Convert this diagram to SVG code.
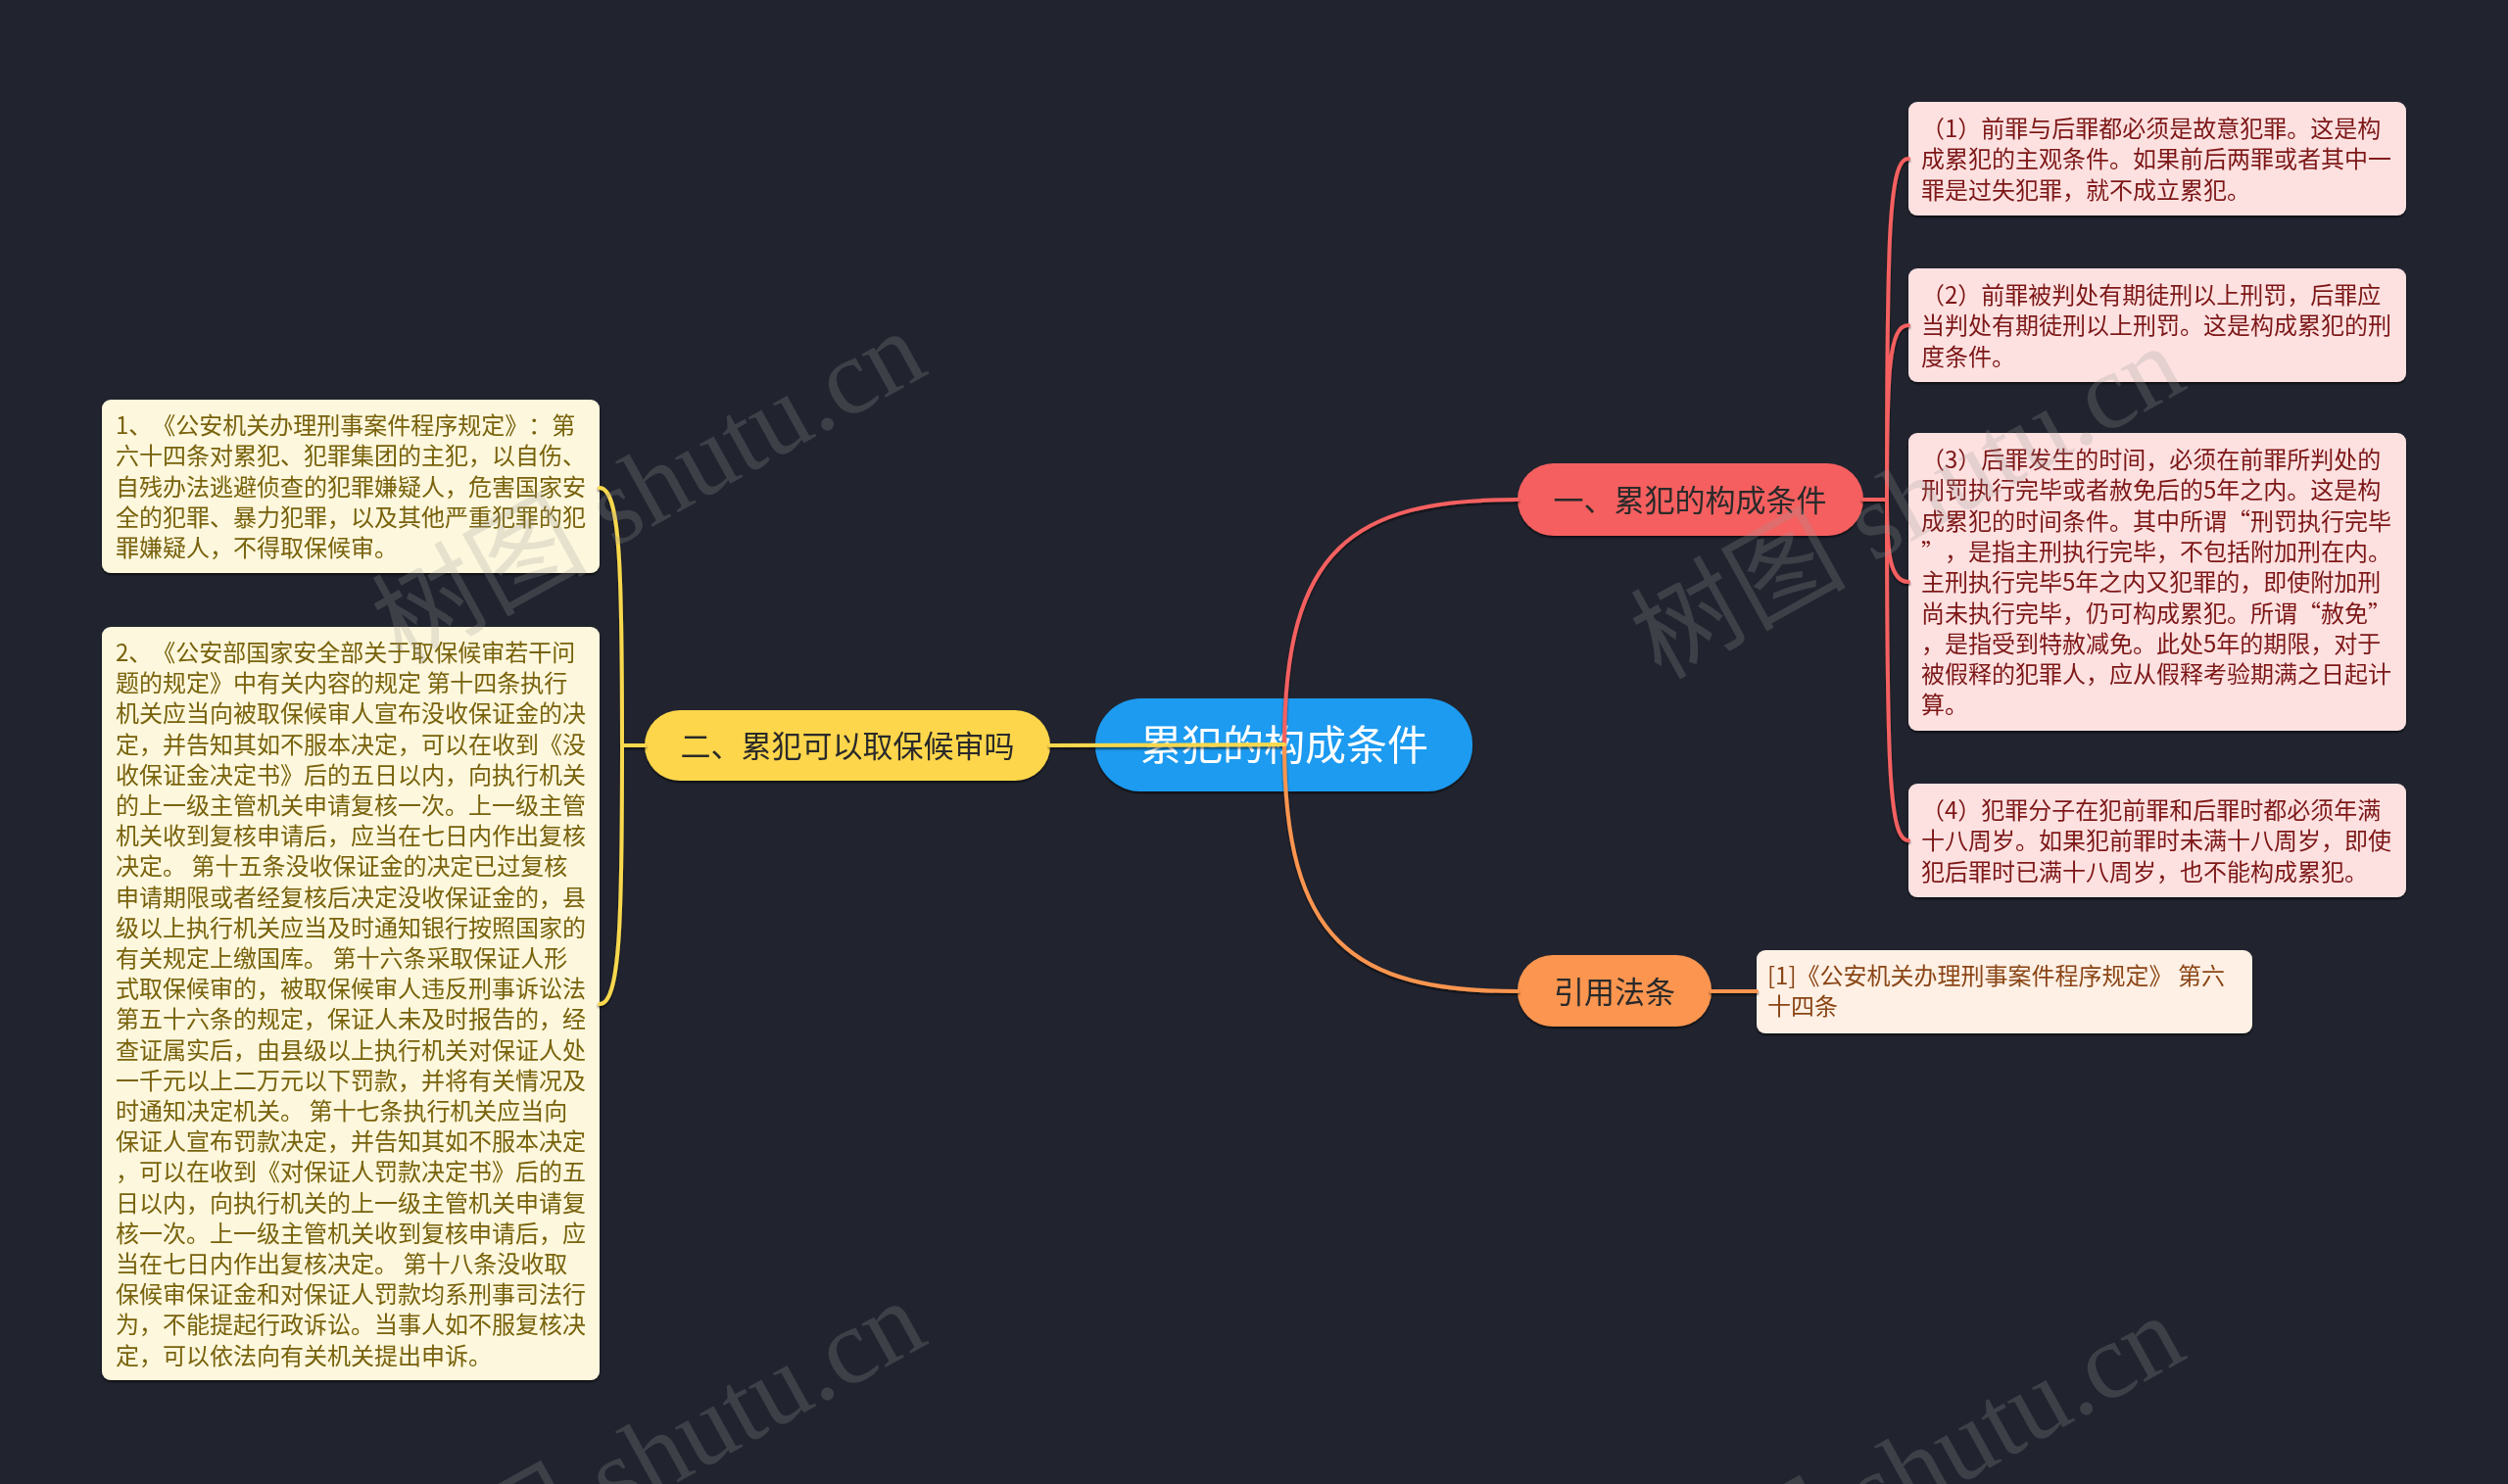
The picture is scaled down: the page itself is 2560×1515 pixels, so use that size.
<svg xmlns="http://www.w3.org/2000/svg" width="2560" height="1515" viewBox="0 0 2560 1515">
<style>
text{font-family:"Noto Sans CJK SC","Noto Sans",sans-serif;text-spacing-trim:space-all;}
.leaf{font-size:24px;}
.rt{fill:#7d1818;}
.lt{fill:#78620a;}
.ct{fill:#8a4516;}
.nt{font-size:31px;fill:#2a2a2a;text-anchor:middle;}
.rbox{fill:#fde1e1;}
.lbox{fill:#fdf7dd;}
.cbox{fill:#fef0e4;}
.wm{font-family:"Liberation Serif","Noto Sans CJK SC",serif;font-size:110px;fill:#9a9a9a;fill-opacity:0.24;}
.c{fill:none;stroke-width:4;stroke-linecap:round;}
</style>
<defs>
<filter id="sh" x="-5%" y="-5%" width="110%" height="115%">
<feDropShadow dx="0" dy="2" stdDeviation="1.2" flood-color="#000" flood-opacity="0.6"/>
</filter>
</defs>
<rect width="2560" height="1515" fill="#21242f"/>

<g id="root" filter="url(#sh)">
<rect x="1118" y="713" width="385" height="95" rx="47" fill="#1e9bf0"/>
<text x="1311" y="776" style="font-size:42px;fill:#ffffff;text-anchor:middle">累犯的构成条件</text>
</g>

<g id="n1" filter="url(#sh)">
<rect x="1549" y="473" width="353" height="74" rx="37" fill="#f55f5f"/>
<text class="nt" x="1725" y="522">一、累犯的构成条件</text>
</g>

<g id="n2" filter="url(#sh)">
<rect x="658" y="725" width="414" height="72" rx="36" fill="#fdd64c"/>
<text class="nt" x="865" y="773">二、累犯可以取保候审吗</text>
</g>

<g id="n3" filter="url(#sh)">
<rect x="1549" y="975" width="198" height="73" rx="36" fill="#fb9550"/>
<text class="nt" x="1648" y="1024">引用法条</text>
</g>

<g id="r1" filter="url(#sh)">
<rect class="rbox" x="1948" y="104" width="508" height="116" rx="9"/>
<text class="leaf rt" x="1961" y="140"><tspan x="1961">（1）前罪与后罪都必须是故意犯罪。这是构</tspan><tspan x="1961" dy="31.3">成累犯的主观条件。如果前后两罪或者其中一</tspan><tspan x="1961" dy="31.3">罪是过失犯罪，就不成立累犯。</tspan></text>
</g>

<g id="r2" filter="url(#sh)">
<rect class="rbox" x="1948" y="274" width="508" height="116" rx="9"/>
<text class="leaf rt" x="1961" y="310"><tspan x="1961">（2）前罪被判处有期徒刑以上刑罚，后罪应</tspan><tspan x="1961" dy="31.3">当判处有期徒刑以上刑罚。这是构成累犯的刑</tspan><tspan x="1961" dy="31.3">度条件。</tspan></text>
</g>

<g id="r3" filter="url(#sh)">
<rect class="rbox" x="1948" y="442" width="508" height="304" rx="9"/>
<text class="leaf rt" x="1961" y="478"><tspan x="1961">（3）后罪发生的时间，必须在前罪所判处的</tspan><tspan x="1961" dy="31.3">刑罚执行完毕或者赦免后的5年之内。这是构</tspan><tspan x="1961" dy="31.3">成累犯的时间条件。其中所谓“刑罚执行完毕</tspan><tspan x="1961" dy="31.3">”，是指主刑执行完毕，不包括附加刑在内。</tspan><tspan x="1961" dy="31.3">主刑执行完毕5年之内又犯罪的，即使附加刑</tspan><tspan x="1961" dy="31.3">尚未执行完毕，仍可构成累犯。所谓“赦免”</tspan><tspan x="1961" dy="31.3">，是指受到特赦减免。此处5年的期限，对于</tspan><tspan x="1961" dy="31.3">被假释的犯罪人，应从假释考验期满之日起计</tspan><tspan x="1961" dy="31.3">算。</tspan></text>
</g>

<g id="r4" filter="url(#sh)">
<rect class="rbox" x="1948" y="800" width="508" height="116" rx="9"/>
<text class="leaf rt" x="1961" y="836"><tspan x="1961">（4）犯罪分子在犯前罪和后罪时都必须年满</tspan><tspan x="1961" dy="31.3">十八周岁。如果犯前罪时未满十八周岁，即使</tspan><tspan x="1961" dy="31.3">犯后罪时已满十八周岁，也不能构成累犯。</tspan></text>
</g>

<g id="c1" filter="url(#sh)">
<rect class="cbox" x="1793" y="970" width="506" height="85" rx="9"/>
<text class="leaf ct" x="1804" y="1005"><tspan x="1804">[1]《公安机关办理刑事案件程序规定》 第六</tspan><tspan x="1804" dy="31.3">十四条</tspan></text>
</g>

<g id="l1" filter="url(#sh)">
<rect class="lbox" x="104" y="408" width="508" height="177" rx="9"/>
<text class="leaf lt" x="118" y="443"><tspan x="118">1、《公安机关办理刑事案件程序规定》：第</tspan><tspan x="118" dy="31.3">六十四条对累犯、犯罪集团的主犯，以自伤、</tspan><tspan x="118" dy="31.3">自残办法逃避侦查的犯罪嫌疑人，危害国家安</tspan><tspan x="118" dy="31.3">全的犯罪、暴力犯罪，以及其他严重犯罪的犯</tspan><tspan x="118" dy="31.3">罪嫌疑人，不得取保候审。</tspan></text>
</g>

<g id="l2" filter="url(#sh)">
<rect class="lbox" x="104" y="640" width="508" height="769" rx="9"/>
<text class="leaf lt" x="118" y="675"><tspan x="118">2、《公安部国家安全部关于取保候审若干问</tspan><tspan x="118" dy="31.2">题的规定》中有关内容的规定 第十四条执行</tspan><tspan x="118" dy="31.2">机关应当向被取保候审人宣布没收保证金的决</tspan><tspan x="118" dy="31.2">定，并告知其如不服本决定，可以在收到《没</tspan><tspan x="118" dy="31.2">收保证金决定书》后的五日以内，向执行机关</tspan><tspan x="118" dy="31.2">的上一级主管机关申请复核一次。上一级主管</tspan><tspan x="118" dy="31.2">机关收到复核申请后，应当在七日内作出复核</tspan><tspan x="118" dy="31.2">决定。 第十五条没收保证金的决定已过复核</tspan><tspan x="118" dy="31.2">申请期限或者经复核后决定没收保证金的，县</tspan><tspan x="118" dy="31.2">级以上执行机关应当及时通知银行按照国家的</tspan><tspan x="118" dy="31.2">有关规定上缴国库。 第十六条采取保证人形</tspan><tspan x="118" dy="31.2">式取保候审的，被取保候审人违反刑事诉讼法</tspan><tspan x="118" dy="31.2">第五十六条的规定，保证人未及时报告的，经</tspan><tspan x="118" dy="31.2">查证属实后，由县级以上执行机关对保证人处</tspan><tspan x="118" dy="31.2">一千元以上二万元以下罚款，并将有关情况及</tspan><tspan x="118" dy="31.2">时通知决定机关。 第十七条执行机关应当向</tspan><tspan x="118" dy="31.2">保证人宣布罚款决定，并告知其如不服本决定</tspan><tspan x="118" dy="31.2">，可以在收到《对保证人罚款决定书》后的五</tspan><tspan x="118" dy="31.2">日以内，向执行机关的上一级主管机关申请复</tspan><tspan x="118" dy="31.2">核一次。上一级主管机关收到复核申请后，应</tspan><tspan x="118" dy="31.2">当在七日内作出复核决定。 第十八条没收取</tspan><tspan x="118" dy="31.2">保候审保证金和对保证人罚款均系刑事司法行</tspan><tspan x="118" dy="31.2">为，不能提起行政诉讼。当事人如不服复核决</tspan><tspan x="118" dy="31.2">定，可以依法向有关机关提出申诉。</tspan></text>
</g>

<g id="connectors" filter="url(#sh)">
<path class="c" stroke="#f46060" d="M1311,760 C1311,560 1380,510 1549,510"/>
<path class="c" stroke="#fb9550" d="M1311,760 C1311,960 1380,1012 1549,1012"/>
<path class="c" stroke="#f8d84e" d="M1311,760 L1072,761"/>
<path class="c" stroke="#fb9550" d="M1747,1012 L1793,1012"/>
<path class="c" stroke="#f46060" d="M1902,510 L1926,510 M1926,510 C1926,240 1928,162 1948,162 M1926,510 C1926,380 1928,332 1948,332 M1926,510 C1926,560 1928,594 1948,594 M1926,510 C1926,780 1928,858 1948,858"/>
<path class="c" stroke="#f8d84e" d="M658,761 L635,761 M635,761 C635,580 633,498 612,498 M635,761 C635,940 633,1025 612,1025"/>
</g>

<g id="watermarks">
<text class="wm" transform="translate(680,530) rotate(-29)" text-anchor="middle">树图 shutu.cn</text>
<text class="wm" transform="translate(1965,545) rotate(-29)" text-anchor="middle">树图 shutu.cn</text>
<text class="wm" transform="translate(680,1520) rotate(-29)" text-anchor="middle">树图 shutu.cn</text>
<text class="wm" transform="translate(1965,1535) rotate(-29)" text-anchor="middle">树图 shutu.cn</text>
</g>
</svg>
